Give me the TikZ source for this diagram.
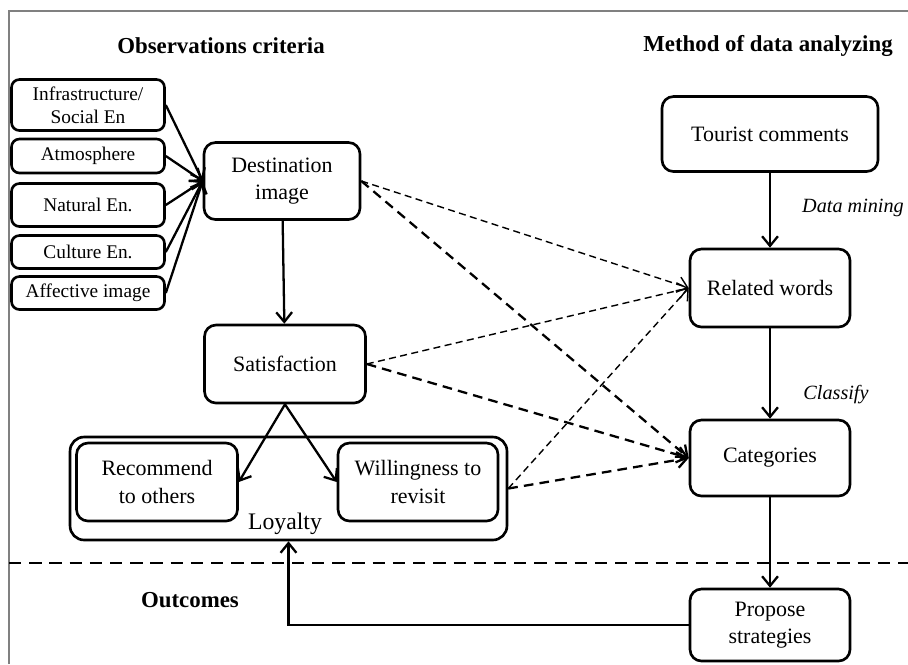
\documentclass[tikz,border=0pt]{standalone}
\usepackage{fontspec}
\setmainfont{Liberation Serif}
\usepackage{tikz}
\usetikzlibrary{arrows.meta,positioning,calc}

\begin{document}
\begin{tikzpicture}[
    x=0.02cm, y=-0.02cm,
    box/.style={draw, rounded corners=6.5pt, line width=1.5pt, align=center,
      inner sep=0pt, font=\fontsize{12.5}{15.5}\selectfont},
    critbox/.style={box, rounded corners=4.5pt, minimum width=3.06cm,
      font=\fontsize{11}{13}\selectfont},
    title/.style={font=\fontsize{13}{15}\selectfont\bfseries},
    step label/.style={font=\fontsize{11.5}{13}\selectfont\itshape},
    arr/.style={-{Straight Barb[length=5.5pt,width=9pt]}, line width=1.3pt},
    thinlink/.style={arr, line width=0.8pt, dash pattern=on 4pt off 2.5pt},
    thicklink/.style={arr, line width=1.3pt, dash pattern=on 5.5pt off 3.5pt}
  ]
  \useasboundingbox (0,0) rectangle (908,664);
  \draw[gray, line width=0.8pt] (9,664) -- (9,11) -- (908,11);

  \node[title] (obs) at (221,46) {Observations criteria};
  \node[title] (meth) at (768,46) {Method of data analyzing};
  \node[title] (outc) at (190,600) {Outcomes};

  \node[critbox, minimum height=1.02cm] (infra) at (88,105) {Infrastructure/\\Social En};
  \node[critbox, minimum height=0.68cm] (atmos) at (88,156) {Atmosphere};
  \node[critbox, minimum height=0.86cm] (natur) at (88,205) {Natural En.};
  \node[critbox, minimum height=0.66cm] (cult) at (88,252) {Culture En.};
  \node[critbox, minimum height=0.66cm] (affect) at (88,293) {Affective image};

  \node[box, minimum width=3.12cm, minimum height=1.54cm] (dest) at (282,181) {Destination\\image};
  \node[box, minimum width=3.22cm, minimum height=1.56cm] (satis) at (285,364) {Satisfaction};

  \node[box, rounded corners=8pt, minimum width=8.74cm, minimum height=2.06cm] (loyalty) at (288.5,488.5) {};
  \node[box, minimum width=3.22cm, minimum height=1.56cm] (recom) at (157,482) {Recommend\\to others};
  \node[box, minimum width=3.2cm, minimum height=1.56cm] (willing) at (418,482) {Willingness to\\revisit};
  \node[font=\fontsize{13.5}{15}\selectfont] (loylabel) at (285,524) {Loyalty};

  \node[box, minimum width=4.32cm, minimum height=1.5cm] (tourist) at (770,134) {Tourist comments};
  \node[box, minimum width=3.2cm, minimum height=1.56cm] (related) at (770,288) {Related words};
  \node[box, minimum width=3.2cm, minimum height=1.52cm] (categ) at (770,458) {Categories};
  \node[box, minimum width=3.2cm, minimum height=1.44cm] (propose) at (770,625) {Propose\\strategies};

  \node[step label] (mining) at (853,208) {Data mining};
  \node[step label] (classify) at (836,395) {Classify};

  \foreach \c in {infra, atmos, natur, cult, affect} {
    \draw[arr] (\c.east) -- (dest.west);
  }
  \draw[arr] (dest) -- (satis);
  \draw[arr] (satis.south) -- (recom.east);
  \draw[arr] (satis.south) -- (willing.west);

  \draw[arr] (tourist) -- (related);
  \draw[arr] (related) -- (categ);
  \draw[arr] (categ) -- (propose);
  \draw[arr] (propose.west) -| (loyalty.south);

  \draw[thinlink] (dest.east) -- (related.west);
  \draw[thicklink] (dest.east) -- (categ.west);
  \draw[thinlink] (satis.east) -- (related.west);
  \draw[thicklink] (satis.east) -- (categ.west);
  \draw[thinlink] (loyalty.east) -- (related.west);
  \draw[thicklink] (loyalty.east) -- (categ.west);

  \draw[line width=1.3pt, dash pattern=on 7pt off 4.5pt] (9,563) -- (908,563);
\end{tikzpicture}
\end{document}
